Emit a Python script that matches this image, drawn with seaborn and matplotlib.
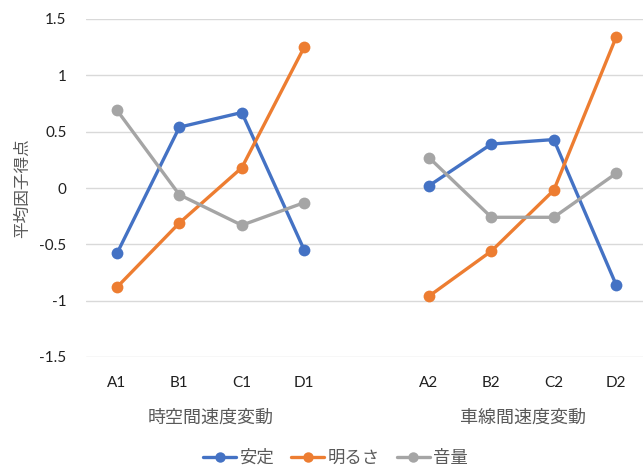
import matplotlib
matplotlib.use("Agg")
import matplotlib.pyplot as plt
from matplotlib.lines import Line2D
import seaborn as sns
import pandas as pd

# Categories of the two blocks and their factor scores
categories_1 = ["A1", "B1", "C1", "D1"]
categories_2 = ["A2", "B2", "C2", "D2"]
block_names = ["時空間速度変動", "車線間速度変動"]
series_names = ["安定", "明るさ", "音量"]

antei = [-0.58, 0.54, 0.67, -0.55, 0.02, 0.39, 0.43, -0.86]
akarusa = [-0.88, -0.31, 0.18, 1.25, -0.96, -0.56, -0.02, 1.34]
onryo = [0.69, -0.06, -0.33, -0.13, 0.27, -0.26, -0.26, 0.13]

colors = ["#4472C4", "#ED7D31", "#A5A5A5"]

sns.set_theme(style="white")
plt.rcParams["font.family"] = ["Noto Sans CJK JP", "DejaVu Sans"]

# Category positions: one empty slot between the blocks
positions = [0, 1, 2, 3, 5, 6, 7, 8]
labels = categories_1 + categories_2
blocks = [block_names[0]] * 4 + [block_names[1]] * 4

rows = []
for name, vals in zip(series_names, [antei, akarusa, onryo]):
    for p, lab, b, v in zip(positions, labels, blocks, vals):
        rows.append({"pos": p, "cat": lab, "block": b, "series": name, "value": v})
df = pd.DataFrame(rows)

fig = plt.figure(figsize=(6.43, 4.68), dpi=100)
ax = fig.add_axes([86 / 643, 1 - 357 / 468, 557 / 643, 338 / 468])

sns.lineplot(
    data=df, x="pos", y="value", hue="series", units="block", estimator=None,
    palette=colors, hue_order=series_names, marker="o", markersize=8.5,
    markeredgewidth=0, linewidth=2.4, legend=False, ax=ax, sort=False,
)

ax.set_xlim(-0.497, 8.43)
ax.set_ylim(-1.5, 1.5)
ax.set_yticks([-1.5, -1, -0.5, 0, 0.5, 1, 1.5])
ax.set_yticklabels(["-1.5", "-1", "-0.5", "0", "0.5", "1", "1.5"])
ax.set_xticks(positions)
ax.set_xticklabels(labels)
ax.grid(axis="y", color="#D9D9D9", linewidth=1.0)
ax.set_axisbelow(True)
for s in ax.spines.values():
    s.set_visible(False)
ax.tick_params(axis="both", length=0, labelsize=11, labelcolor="#202020")
ax.tick_params(axis="y", pad=14)
ax.tick_params(axis="x", pad=14)
for t in ax.get_xticklabels() + ax.get_yticklabels():
    t.set_family("Lato")

ax.set_xlabel("")
ax.set_ylabel("平均因子得点", fontsize=12, color="#595959")
ax.yaxis.set_label_coords(-0.099, 0.5)

# Block labels under the category ticks
for center, name in [(1.5, block_names[0]), (6.5, block_names[1])]:
    ax.annotate(name, xy=(center, 0), xycoords=("data", "axes fraction"),
                xytext=(0, -61), textcoords="offset pixels",
                ha="center", va="center", fontsize=13, color="#595959")

handles = [Line2D([0], [0], color=c, linewidth=2.4, marker="o", markersize=7.5,
                  markeredgewidth=0) for c in colors]
fig.legend(handles, series_names, loc="center", bbox_to_anchor=(335.5 / 643, 1 - 458 / 468),
           ncol=3, frameon=False, fontsize=12.5, handlelength=1.9, handletextpad=0.18,
           columnspacing=1.0, labelcolor="#595959")

fig.savefig("out.png", dpi=100)
